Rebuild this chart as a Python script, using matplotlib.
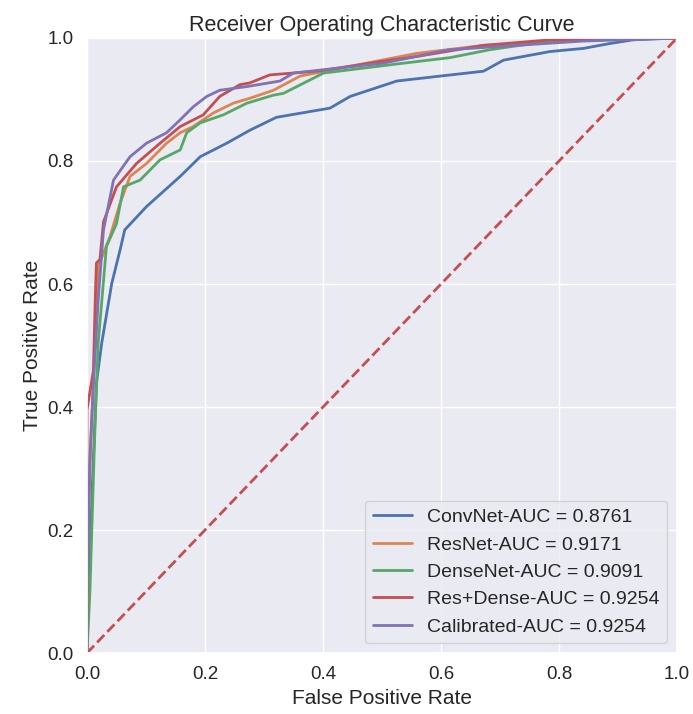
import matplotlib
matplotlib.use("Agg")
import matplotlib.pyplot as plt
import seaborn as sns

sns.set_theme(style="darkgrid")
plt.rcParams['font.family'] = ['Liberation Sans', 'DejaVu Sans']

# ROC points (fpr, tpr)
convnet_fpr = [0.0, 0.0, 0.005, 0.011, 0.016, 0.025, 0.042, 0.056, 0.064, 0.101, 0.158, 0.192, 0.237,
               0.276, 0.321, 0.412, 0.446, 0.525, 0.598, 0.672, 0.706, 0.785, 0.841, 0.886, 0.926, 1.0]
convnet_tpr = [0.0, 0.086, 0.167, 0.319, 0.439, 0.504, 0.601, 0.655, 0.688, 0.726, 0.775, 0.807, 0.829,
               0.850, 0.871, 0.886, 0.905, 0.930, 0.938, 0.946, 0.964, 0.978, 0.983, 0.991, 0.997, 1.0]

resnet_fpr = [0.0, 0.0, 0.005, 0.011, 0.019, 0.039, 0.056, 0.073, 0.101, 0.135, 0.158, 0.180, 0.214,
              0.248, 0.276, 0.316, 0.361, 0.446, 0.559, 0.672, 0.84, 1.0]
resnet_tpr = [0.0, 0.1, 0.3, 0.45, 0.628, 0.677, 0.731, 0.775, 0.796, 0.829, 0.846, 0.856, 0.878,
              0.894, 0.902, 0.915, 0.938, 0.954, 0.975, 0.988, 0.997, 1.0]

densenet_fpr = [0.0, 0.005, 0.008, 0.013, 0.019, 0.033, 0.050, 0.062, 0.090, 0.124, 0.158, 0.169, 0.192,
                0.231, 0.271, 0.316, 0.333, 0.401, 0.536, 0.615, 0.683, 0.785, 1.0]
densenet_tpr = [0.0, 0.1, 0.195, 0.35, 0.504, 0.661, 0.698, 0.758, 0.769, 0.802, 0.818, 0.846, 0.862,
                0.875, 0.894, 0.907, 0.910, 0.943, 0.959, 0.968, 0.981, 0.995, 1.0]

resdense_fpr = [0.0, 0.0, 0.011, 0.014, 0.016, 0.022, 0.028, 0.050, 0.084, 0.124, 0.158, 0.197, 0.225,
                0.259, 0.276, 0.310, 0.389, 0.502, 0.559, 0.672, 0.785, 1.0]
resdense_tpr = [0.0, 0.395, 0.46, 0.574, 0.634, 0.64, 0.701, 0.758, 0.796, 0.829, 0.856, 0.875, 0.905,
                0.924, 0.927, 0.940, 0.946, 0.962, 0.970, 0.988, 0.997, 1.0]

calib_fpr = [0.0, 0.0, 0.005, 0.011, 0.019, 0.028, 0.045, 0.073, 0.101, 0.135, 0.158, 0.180, 0.203,
             0.225, 0.271, 0.327, 0.350, 0.502, 0.615, 0.728, 0.841, 1.0]
calib_tpr = [0.0, 0.1, 0.319, 0.439, 0.574, 0.688, 0.769, 0.807, 0.829, 0.846, 0.867, 0.888, 0.905,
             0.915, 0.921, 0.930, 0.943, 0.959, 0.981, 0.988, 0.995, 1.0]

labels = ["ConvNet-AUC = 0.8761", "ResNet-AUC = 0.9171", "DenseNet-AUC = 0.9091",
          "Res+Dense-AUC = 0.9254", "Calibrated-AUC = 0.9254"]

fig = plt.figure(figsize=(6.93, 7.14), dpi=100)
ax = fig.add_axes([0.1255, 0.0854, 0.8515, 0.8614])

curves = [(convnet_fpr, convnet_tpr), (resnet_fpr, resnet_tpr), (densenet_fpr, densenet_tpr),
          (resdense_fpr, resdense_tpr), (calib_fpr, calib_tpr)]
for i, (f, t) in enumerate(curves):
    ax.plot(f, t, color=f"C{i}", lw=2, label=labels[i])

ax.plot([0, 1], [0, 1], '--', color="C3", lw=2)
ax.set_xlim(0, 1)
ax.set_ylim(0, 1)
ax.set_xlabel("False Positive Rate", fontsize=15)
ax.set_ylabel("True Positive Rate", fontsize=15)
ax.set_title("Receiver Operating Characteristic Curve", fontsize=15.5, pad=5)
ax.tick_params(labelsize=13.5)
ax.legend(loc="lower right", fontsize=14)

fig.savefig("out.png")
